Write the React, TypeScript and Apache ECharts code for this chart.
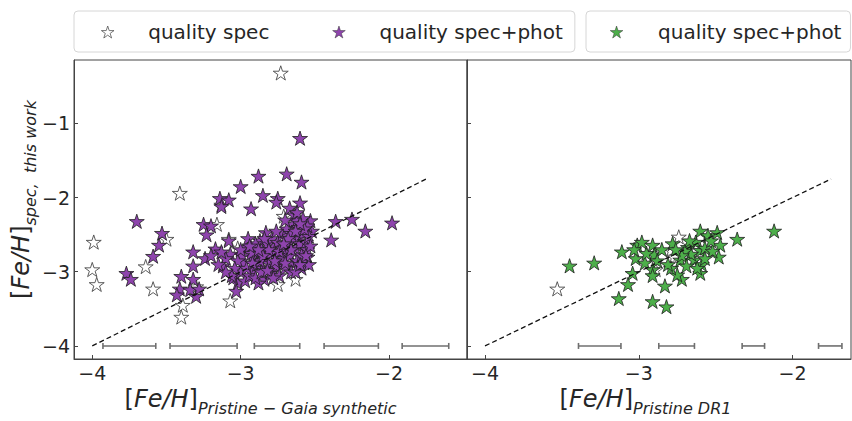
import React, { useEffect, useRef } from 'react';
import * as echarts from 'echarts';

const STAR = 'path://M100,0L122.45,69.1L195.1,69.1L136.33,111.8L158.78,180.9L100,138.2L41.22,180.9L63.67,111.8L4.9,69.1L77.55,69.1Z';

const xTicks = [-4, -3, -2];
const yTicks = [-4, -3, -2, -1];

const oneToOne = [[-4, -4], [-1.75, -1.75]];

// left panel: Pristine - Gaia synthetic
const specGaia = [
  [-2.73, -0.32], [-3.41, -1.94], [-3.99, -2.6], [-4.0, -2.97], [-3.97, -3.17], [-3.64, -2.93],
  [-3.59, -3.23], [-3.5, -2.56], [-3.16, -2.36], [-3.07, -3.39], [-3.39, -3.45], [-3.4, -3.61],
  [-3.08, -2.56], [-3.13, -2.1], [-2.75, -3.17], [-2.63, -3.1], [-2.71, -2.25], [-3.02, -2.68],
  [-2.68, -2.5], [-2.9, -2.85], [-3.3, -3.2],
];

const specPhotGaia = [
  [-2.6, -1.2], [-2.69, -1.68], [-2.88, -1.71], [-2.59, -1.79], [-3.0, -1.85], [-2.85, -1.97],
  [-2.75, -2.01], [-3.14, -2.01], [-3.08, -2.03], [-2.76, -2.06], [-3.13, -2.12], [-2.93, -2.15],
  [-2.6, -2.07], [-3.7, -2.32], [-3.53, -2.48], [-3.55, -2.64], [-3.59, -2.79], [-3.77, -3.02],
  [-3.74, -3.1], [-3.25, -2.36], [-3.2, -2.38], [-3.23, -2.5], [-3.32, -2.73], [-3.32, -2.92],
  [-3.4, -3.06], [-3.32, -3.1], [-3.41, -3.23], [-3.43, -3.31], [-3.34, -3.24], [-3.3, -3.33],
  [-3.28, -3.23], [-3.02, -3.15], [-3.03, -3.26], [-3.05, -3.08], [-3.08, -2.58], [-3.17, -2.69],
  [-3.24, -2.82], [-3.07, -2.76], [-3.12, -2.92], [-2.36, -2.32], [-2.25, -2.29], [-2.16, -2.45],
  [-2.39, -2.57], [-1.98, -2.34],
  [-2.96, -2.67], [-2.92, -2.8], [-2.87, -2.58], [-2.83, -2.47], [-2.78, -2.67], [-2.84, -3.1],
  [-2.78, -2.97], [-2.73, -2.88], [-2.69, -2.71], [-2.65, -2.36], [-2.64, -2.23], [-2.67, -2.14],
  [-2.62, -2.31], [-2.6, -2.53], [-2.57, -2.71], [-2.59, -2.95], [-2.55, -2.8], [-2.53, -2.31],
  [-2.52, -2.45], [-2.65, -2.88], [-2.74, -2.8], [-2.92, -2.97], [-2.98, -2.88], [-2.83, -2.8],
  [-3.0, -3.0], [-2.97, -3.12], [-2.94, -3.05], [-2.91, -2.72], [-2.89, -2.9], [-2.88, -3.15],
  [-2.86, -2.7], [-2.85, -2.95], [-2.82, -2.62], [-2.81, -2.88], [-2.8, -3.02], [-2.79, -2.55],
  [-2.77, -2.78], [-2.76, -2.92], [-2.75, -2.6], [-2.74, -3.05], [-2.72, -2.5], [-2.71, -2.82],
  [-2.7, -2.95], [-2.69, -2.42], [-2.68, -2.62], [-2.67, -2.78], [-2.66, -3.0], [-2.64, -2.55],
  [-2.63, -2.68], [-2.62, -2.85], [-2.61, -2.4], [-2.6, -2.62], [-2.59, -2.77], [-2.58, -2.28],
  [-2.58, -2.48], [-2.57, -2.88], [-2.56, -2.6], [-2.55, -2.38], [-2.55, -2.7], [-2.54, -2.52],
  [-2.54, -2.9], [-2.53, -2.65], [-2.62, -2.2], [-2.66, -2.48], [-2.7, -2.3], [-2.72, -2.68],
  [-2.76, -2.45], [-2.8, -2.75], [-2.84, -2.55], [-2.87, -2.85], [-2.9, -2.62], [-2.93, -2.75],
  [-2.95, -2.55], [-2.99, -2.78], [-3.02, -2.85], [-3.04, -2.95], [-3.06, -3.05], [-3.1, -2.82],
  [-3.1, -3.0], [-3.15, -2.9], [-3.0, -2.7], [-2.96, -2.95], [-2.9, -3.08], [-2.86, -3.0],
  [-2.82, -2.98], [-2.78, -3.08], [-2.74, -2.72], [-2.7, -2.88], [-2.66, -2.7], [-2.63, -3.0],
  [-2.6, -2.9], [-2.57, -2.42], [-2.56, -2.78], [-2.6, -2.35], [-2.63, -2.45], [-2.68, -2.55],
  [-2.71, -2.62], [-2.77, -2.85], [-2.81, -2.7], [-2.85, -2.78], [-2.88, -2.7], [-2.92, -2.88],
  [-2.94, -2.65], [-3.2, -2.78], [-3.13, -2.73],
];

// right panel: Pristine DR1
const specDR1 = [
  [-3.53, -3.23], [-2.74, -2.53], [-2.79, -2.71], [-2.77, -2.8], [-2.89, -2.97],
];

const specPhotDR1 = [
  [-2.12, -2.45], [-2.36, -2.56], [-2.49, -2.47], [-2.6, -2.45], [-2.47, -2.64], [-2.48, -2.8],
  [-2.6, -2.71], [-2.55, -2.51], [-2.68, -2.67], [-2.64, -2.84], [-2.59, -2.9], [-2.6, -3.02],
  [-2.72, -3.1], [-2.75, -3.04], [-2.79, -2.95], [-2.78, -2.62], [-2.73, -2.84], [-2.66, -2.76],
  [-2.91, -2.64], [-3.01, -2.64], [-3.11, -2.73], [-3.02, -2.82], [-2.9, -2.77], [-2.96, -2.88],
  [-2.91, -2.97], [-2.91, -3.05], [-3.04, -3.02], [-3.07, -3.17], [-2.83, -3.19], [-3.13, -3.36],
  [-2.91, -3.4], [-2.82, -3.47], [-3.45, -2.92], [-3.29, -2.88],
  [-2.7, -2.72], [-2.63, -2.6], [-2.57, -2.68], [-2.52, -2.72], [-2.67, -2.58], [-2.72, -2.78],
  [-2.85, -2.7], [-2.95, -2.75], [-2.98, -2.6], [-2.88, -2.85], [-2.69, -2.92], [-2.62, -2.95],
  [-2.57, -2.82], [-2.53, -2.58], [-2.76, -2.7], [-2.81, -2.9], [-3.03, -2.7],
];

// binned uncertainties drawn at y = -4
const errLevel = -4;
const errCentersGaia = [-3.75, -3.25, -2.755, -2.255, -1.755];
const errHalfGaia = [0.178, 0.226, 0.153, 0.183, 0.157];
const errCentersDR1 = [-3.254, -2.754, -2.255, -1.755];
const errHalfDR1 = [0.138, 0.116, 0.073, 0.076];

const FONT = 'DejaVu Sans';
const TXT = '#262626';
const AXC = '#444';
const PURPLE = '#8e44ad';
const GREEN = '#4daf4a';

const fmt = (v: number) => String(v).replace('-', '\u2212');

const rich = {
  n: { fontSize: 24, fontFamily: FONT, color: TXT, lineHeight: 34 },
  i: { fontSize: 24, fontFamily: FONT, fontStyle: 'italic', color: TXT, lineHeight: 34 },
  s: { fontSize: 16, fontFamily: FONT, fontStyle: 'italic', color: TXT, lineHeight: 16, verticalAlign: 'bottom' },
};

const errRender = (params: any, api: any) => {
  const c = api.value(0);
  const h = api.value(1);
  const yv = api.value(2);
  const p1 = api.coord([c - h, yv]);
  const p2 = api.coord([c + h, yv]);
  const cap = 3;
  const st = { stroke: '#6f6f6f', lineWidth: 1.6 };
  return {
    type: 'group',
    children: [
      { type: 'line', shape: { x1: p1[0], y1: p1[1], x2: p2[0], y2: p2[1] }, style: st },
      { type: 'line', shape: { x1: p1[0], y1: p1[1] - cap, x2: p1[0], y2: p1[1] + cap }, style: st },
      { type: 'line', shape: { x1: p2[0], y1: p2[1] - cap, x2: p2[0], y2: p2[1] + cap }, style: st },
    ],
  };
};

const xAxisBase = (gridIndex: number, min: number, max: number, name: string, pad: number) => ({
  gridIndex,
  type: 'value',
  min,
  max,
  axisLine: { show: true, lineStyle: { color: AXC, width: 1 } },
  axisTick: { show: true, inside: true, length: 4, customValues: xTicks, lineStyle: { color: AXC } },
  axisLabel: { customValues: xTicks, formatter: fmt, fontSize: 19, fontFamily: FONT, color: TXT, margin: 4 },
  splitLine: { show: false },
  name,
  nameLocation: 'middle',
  nameGap: 23,
  nameTextStyle: { rich, padding: [0, pad, 0, 0] },
});

const yAxisBase = (gridIndex: number, showLabels: boolean) => ({
  gridIndex,
  type: 'value',
  min: -4.176,
  max: -0.146,
  axisLine: { show: true, lineStyle: { color: AXC, width: 1 } },
  axisTick: { show: true, inside: true, length: 4, customValues: yTicks, lineStyle: { color: AXC } },
  axisLabel: { show: showLabels, customValues: yTicks, formatter: fmt, fontSize: 19, fontFamily: FONT, color: TXT, margin: 4 },
  splitLine: { show: false },
});

const legendBase = {
  top: 11,
  orient: 'horizontal',
  selectedMode: false,
  itemWidth: 13,
  itemHeight: 12,
  backgroundColor: '#fff',
  borderColor: '#d6d6d6',
  borderWidth: 1,
  borderRadius: 4,
};

export default function App() {
  const ref = useRef<HTMLDivElement>(null);
  useEffect(() => {
    document.body.style.margin = '0';
    const chart = echarts.init(ref.current!, null, { renderer: 'svg' });
    const starWhite = { color: '#ffffff', borderColor: '#4a4a4a', borderWidth: 0.9, opacity: 1 };
    const option: any = {
      animation: false,
      textStyle: { fontFamily: FONT },
      grid: [
        { left: 74, top: 60, width: 393, height: 307, show: true, borderColor: AXC, borderWidth: 1 },
        { left: 467, top: 60, width: 384, height: 307, show: true, borderColor: AXC, borderWidth: 1 },
      ],
      legend: [
        {
          ...legendBase,
          left: 74,
          padding: [11, 12, 10, 27],
          itemGap: 63,
          textStyle: { fontSize: 20, fontFamily: FONT, color: TXT, padding: [0, 0, 0, 29] },
          data: [
            { name: 'quality spec', icon: STAR, itemStyle: { color: '#fff', borderColor: '#555', borderWidth: 0.8 } },
            { name: 'quality spec+phot', icon: STAR, itemStyle: { color: PURPLE, borderColor: '#333', borderWidth: 0.5 } },
          ],
        },
        {
          ...legendBase,
          left: 586,
          padding: [11, 9, 10, 24],
          textStyle: { fontSize: 20, fontFamily: FONT, color: TXT, padding: [0, 0, 0, 30] },
          formatter: () => 'quality spec+phot',
          data: [{ name: 'quality spec+phot DR1', icon: STAR, itemStyle: { color: GREEN, borderColor: '#333', borderWidth: 0.5 } }],
        },
      ],
      xAxis: [
        xAxisBase(0, -4.123, -1.475, '{n|[}{i|Fe/H}{n|]}{s|Pristine \u2212 Gaia synthetic}', 20),
        xAxisBase(1, -4.117, -1.62, '{n|[}{i|Fe/H}{n|]}{s|Pristine DR1}', 27),
      ],
      yAxis: [
        {
          ...yAxisBase(0, true),
          name: '{n|[}{i|Fe/H}{n|]}{s|spec,  this work}',
          nameLocation: 'middle',
          nameRotate: 90,
          nameGap: 34,
          nameTextStyle: { rich, padding: [0, 0, 0, 20] },
        },
        yAxisBase(1, false),
      ],
      series: [
        {
          name: 'quality spec',
          type: 'scatter',
          xAxisIndex: 0,
          yAxisIndex: 0,
          symbol: STAR,
          symbolSize: 15,
          symbolKeepAspect: true,
          itemStyle: starWhite,
          data: specGaia,
          z: 2,
        },
        {
          name: 'quality spec+phot',
          type: 'scatter',
          xAxisIndex: 0,
          yAxisIndex: 0,
          symbol: STAR,
          symbolSize: 15,
          symbolKeepAspect: true,
          itemStyle: { color: PURPLE, borderColor: '#1e1e1e', borderWidth: 0.8, opacity: 1 },
          data: specPhotGaia,
          z: 3,
        },
        {
          name: 'quality spec DR1',
          type: 'scatter',
          xAxisIndex: 1,
          yAxisIndex: 1,
          symbol: STAR,
          symbolSize: 15,
          symbolKeepAspect: true,
          itemStyle: starWhite,
          data: specDR1,
          z: 2,
        },
        {
          name: 'quality spec+phot DR1',
          type: 'scatter',
          xAxisIndex: 1,
          yAxisIndex: 1,
          symbol: STAR,
          symbolSize: 15,
          symbolKeepAspect: true,
          itemStyle: { color: GREEN, borderColor: '#1e1e1e', borderWidth: 0.8, opacity: 1 },
          data: specPhotDR1,
          z: 3,
        },
        {
          name: 'one-to-one Gaia',
          type: 'line',
          xAxisIndex: 0,
          yAxisIndex: 0,
          symbol: 'none',
          lineStyle: { color: '#111', width: 1.3, type: [5, 3] },
          data: oneToOne,
          z: 4,
        },
        {
          name: 'one-to-one DR1',
          type: 'line',
          xAxisIndex: 1,
          yAxisIndex: 1,
          symbol: 'none',
          lineStyle: { color: '#111', width: 1.3, type: [5, 3] },
          data: oneToOne,
          z: 4,
        },
        {
          name: 'errors Gaia',
          type: 'custom',
          xAxisIndex: 0,
          yAxisIndex: 0,
          renderItem: errRender,
          encode: { x: 0, y: 2 },
          data: errCentersGaia.map((c, i) => [c, errHalfGaia[i], errLevel]),
          z: 4,
        },
        {
          name: 'errors DR1',
          type: 'custom',
          xAxisIndex: 1,
          yAxisIndex: 1,
          renderItem: errRender,
          encode: { x: 0, y: 2 },
          data: errCentersDR1.map((c, i) => [c, errHalfDR1[i], errLevel]),
          z: 4,
        },
      ],
    };
    chart.setOption(option);
    return () => chart.dispose();
  }, []);
  return <div ref={ref} style={{ width: 852, height: 421 }} />;
}
